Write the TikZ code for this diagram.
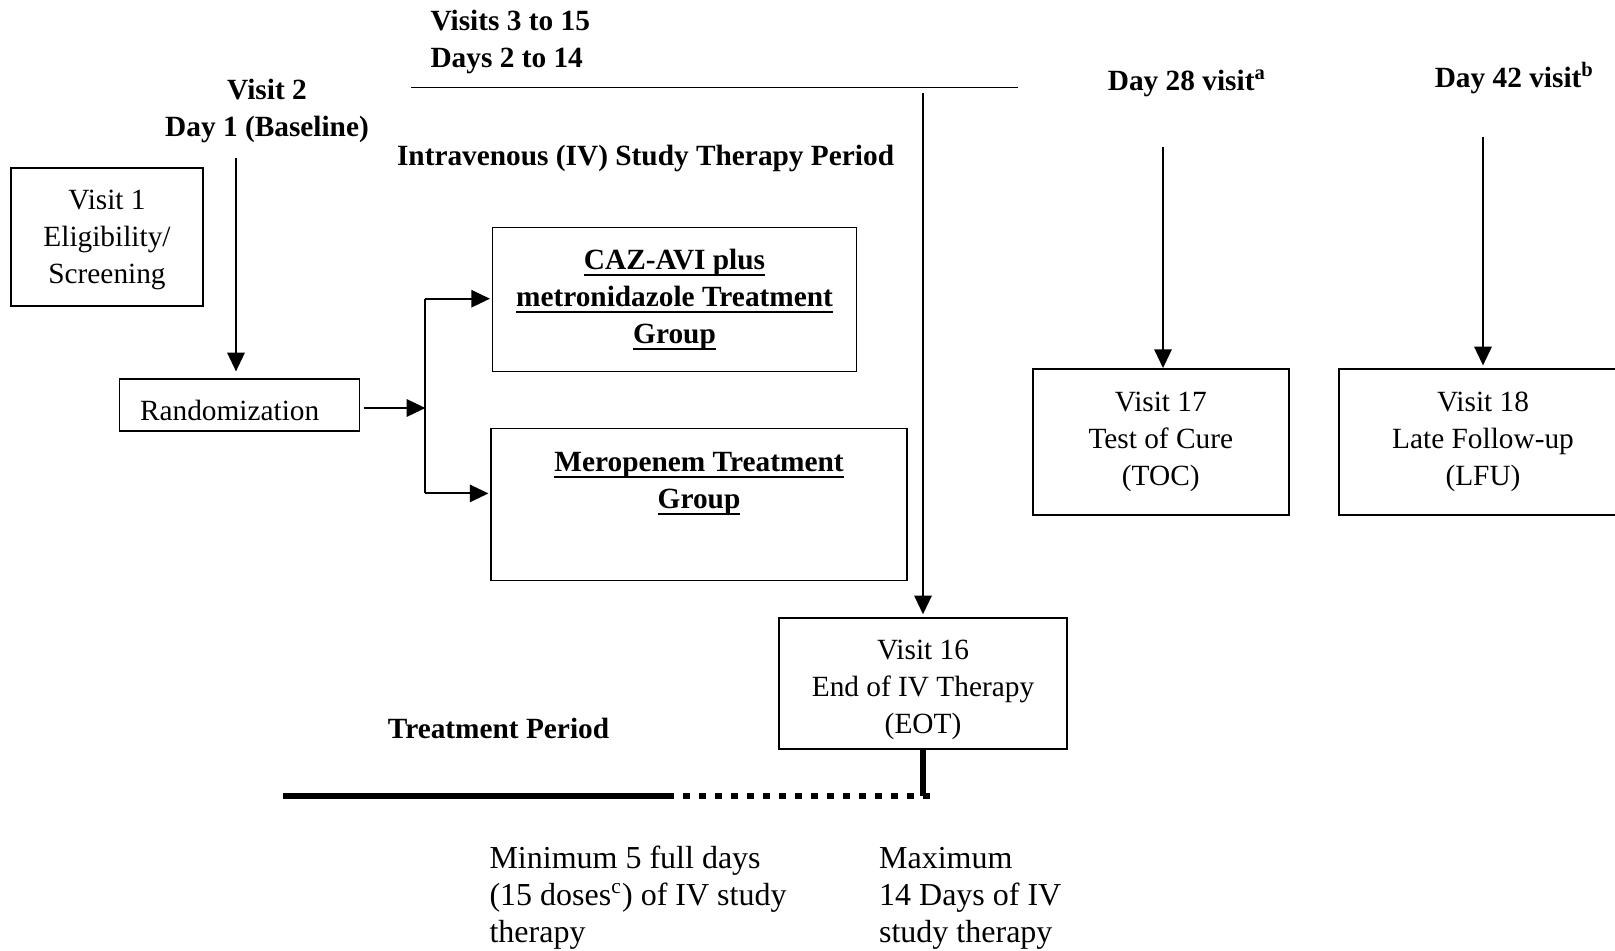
\documentclass[tikz,border=0pt]{standalone}
\usepackage{fontspec}
\setmainfont{Liberation Serif}
\usetikzlibrary{arrows.meta}
\newcommand\thul[1]{\setbox0=\hbox{#1}\leavevmode\rlap{\rule[-2.5pt]{\wd0}{0.75pt}}\box0}
\newcommand\toph[1]{\rule{0pt}{#1}}
\newcommand\botd[1]{\rule[-#1]{0pt}{#1}}
\begin{document}
\begin{tikzpicture}[x=0.375pt,y=-0.375pt,
  font=\fontsize{11}{13.875}\selectfont,
  box/.style={draw, line width=0.7pt, inner sep=0pt, align=center},
  groupbox/.style={box, font=\fontsize{11}{13.875}\selectfont\bfseries},
  arr/.style={-{Triangle[length=7pt,width=6.5pt]}, line width=0.7pt},
  ln/.style={line width=0.7pt},
  heavy/.style={line width=2.25pt},
  dotline/.style={line width=2.6pt, dash pattern=on 2.5pt off 3.5pt},
  lbl/.style={inner sep=0pt, font=\fontsize{11}{13.875}\selectfont\bfseries},
  note/.style={inner sep=0pt, align=left, anchor=north west, font=\fontsize{12}{13.875}\selectfont}]

\useasboundingbox (0,0) rectangle (1615,950);

% boxes
\node[box, minimum width=192*0.375pt, minimum height=138*0.375pt] (v1) at (107,237) {\toph{10.3pt}Visit 1\\Eligibility/\\Screening\botd{3pt}};
\node[box, inner xsep=20.5*0.375pt, text width=199*0.375pt, align=left, minimum height=51.5*0.375pt] (rand) at (239.5,405) {\toph{11.4pt}Randomization};
\node[groupbox, minimum width=364*0.375pt, minimum height=144*0.375pt] (caz) at (674.5,299.5) {\thul{CAZ-AVI plus}\\\thul{metronidazole Treatment}\\\thul{Group}};
\node[groupbox, minimum width=416*0.375pt, minimum height=152*0.375pt] (mero) at (699,504.5) {\thul{Meropenem Treatment}\\\thul{Group}\\\strut};
\node[box, minimum width=288*0.375pt, minimum height=131*0.375pt] (v16) at (923,683.4) {\toph{13.1pt}Visit 16\\End of IV Therapy\\(EOT)\botd{3pt}};
\node[box, minimum width=255.5*0.375pt, minimum height=146*0.375pt] (v17) at (1160.8,442) {Visit 17\\Test of Cure\\(TOC)};
\node[box, minimum width=288*0.375pt, minimum height=146*0.375pt] (v18) at (1483,442) {Visit 18\\Late Follow-up\\(LFU)};

% labels
\node[lbl, anchor=west, align=left] (visits) at (430,42) {Visits 3 to 15\\Days 2 to 14};
\node[lbl, align=center] (visit2) at (267,111) {Visit 2\\Day 1 (Baseline)};
\node[lbl, anchor=west] (ivp) at (396.5,158.5) {Intravenous (IV) Study Therapy Period};
\node[lbl] (d28) at (1187,83) {Day 28 visit\textsuperscript{a}};
\node[lbl] (d42) at (1514.5,78) {Day 42 visit\textsuperscript{b}};
\node[lbl] (tp) at (498.5,728) {Treatment Period};
\node[note] (minl) at (489,845) {Minimum 5 full days\\(15 doses\textsuperscript{c}) of IV study\\therapy};
\node[note] (maxl) at (878.6,847) {Maximum\\14 Days of IV\\study therapy};

% coordinates
\coordinate (hl0) at (411,87.5);
\coordinate (hl1) at (1018,87.5);
\coordinate (a2) at (236,157.6);
\coordinate (br) at (425.4,408);
\coordinate (brt) at (425.4,298.7);
\coordinate (brb) at (425.4,493.4);
\coordinate (ivtop) at (923,93);
\coordinate (a28) at (1163,147);
\coordinate (a42) at (1483,137);
\coordinate (tl0) at (283,796);
\coordinate (tlm) at (667,796);
\coordinate (tl1) at (932,796);

% connectors
\draw[ln] (hl0) -- (hl1);
\draw[arr, shorten >=2.6pt] (a2) -- (a2 |- rand.north);
\draw[arr, shorten <=1.2pt] (rand.east |- br) -- (br);
\draw[ln] (brt) -- (brb);
\draw[arr, shorten >=0.6pt] (brt) -- (brt -| caz.west);
\draw[arr, shorten >=0.6pt] (brb) -- (brb -| mero.west);
\draw[arr, shorten >=1pt] (ivtop) -- (v16.north);
\draw[arr] (a28) -- (a28 |- v17.north);
\draw[arr, shorten >=1pt] (a42) -- (a42 |- v18.north);
\draw[heavy] (v16.south) -- (v16.south |- tl1);
\draw[heavy] (tl0) -- (tlm);
\draw[dotline] (tlm) -- (tl1);
\end{tikzpicture}
\end{document}
